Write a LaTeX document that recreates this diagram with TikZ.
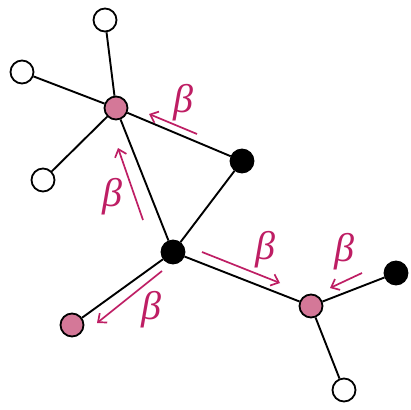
\documentclass[tikz,border=0pt]{standalone}
\usepackage{fontspec}
\newfontfamily\gkfont{Liberation Serif}
\usetikzlibrary{arrows.meta}
\definecolor{pinkfill}{RGB}{212,120,152}
\definecolor{arr}{RGB}{190,30,100}
\begin{document}
\begin{tikzpicture}[x=1pt,y=-1pt,
  atom/.style={circle,draw=black,line width=1.8pt,minimum size=23pt,inner sep=0pt},
  wnode/.style={atom,fill=white},
  pnode/.style={atom,fill=pinkfill},
  bnode/.style={atom,fill=black},
  bond/.style={line width=1.9pt},
  flow/.style={draw=arr,line width=1.7pt,-{Straight Barb[length=7pt,width=12pt,line width=1.7pt]}},
  lab/.style={text=arr,font=\gkfont\itshape\fontsize{40}{40}\selectfont,inner sep=0pt}]
\useasboundingbox (0,0) rectangle (411,409);
\node[wnode] (t) at (105,20) {};
\node[wnode] (l) at (22,72) {};
\node[wnode] (ll) at (43,180) {};
\node[bnode] (B) at (242,161) {};
\node[bnode] (C) at (173,252) {};
\node[pnode] (D) at (72,325) {};
\node[bnode] (F) at (396,273) {};
\node[wnode] (b) at (344,390) {};
\node[pnode] (A) at (116,108) {};
\node[pnode] (E) at (311,306) {};
\draw[bond] (A) -- (t);
\draw[bond] (A) -- (l);
\draw[bond] (A) -- (ll);
\draw[bond] (A) -- (B);
\draw[bond] (A) -- (C);
\draw[bond] (B) -- (C);
\draw[bond] (C) -- (D);
\draw[bond] (C) -- (E);
\draw[bond] (E) -- (F);
\draw[bond] (E) -- (b);
\coordinate (a1s) at (197,134); \coordinate (a1e) at (149,114);
\coordinate (a2s) at (143,220); \coordinate (a2e) at (118,148);
\coordinate (a3s) at (162,271); \coordinate (a3e) at (97,323);
\coordinate (a4s) at (202,252); \coordinate (a4e) at (280,283);
\coordinate (a5s) at (362,273); \coordinate (a5e) at (330,288);
\draw[flow] (a1s) -- (a1e);
\draw[flow] (a2s) -- (a2e);
\draw[flow] (a3s) -- (a3e);
\draw[flow] (a4s) -- (a4e);
\draw[flow] (a5s) -- (a5e);
\node[lab] (b1) at (183,103) {β};
\node[lab] (b2) at (112,197) {β};
\node[lab] (b3) at (151,310) {β};
\node[lab] (b4) at (265,250) {β};
\node[lab] (b5) at (344,252) {β};
\end{tikzpicture}
\end{document}
